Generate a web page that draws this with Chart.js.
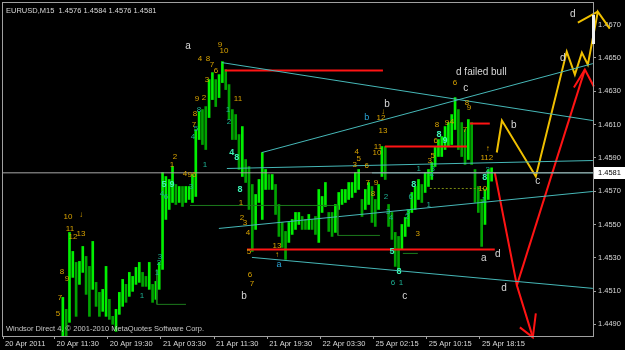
<!DOCTYPE html>
<html>
<head>
<meta charset="utf-8">
<script src="https://cdn.jsdelivr.net/npm/chart.js"></script>
<style>
html, body { margin: 0; padding: 0; background: #000; }
canvas { display: block; }
</style>
</head>
<body>
<canvas id="chart" width="625" height="350"></canvas>
<script>
// EURUSD M15, prices
var symbolName = 'EURUSD,M15';
var lastOHLC = [1.4576, 1.4584, 1.4576, 1.4581];
var copyrightText = 'Windsor Direct 4, \u00a9 2001-2010 MetaQuotes Software Corp.';

// x axis is bar number (15 min bars), 0 = left edge
var dateTickBars = [0, 31, 63, 95, 127, 159, 191, 223, 255, 287];
var dateTickLabels = ['20 Apr 2011', '20 Apr 11:30', '20 Apr 19:30', '21 Apr 03:30', '21 Apr 11:30',
    '21 Apr 19:30', '22 Apr 03:30', '25 Apr 02:15', '25 Apr 10:15', '25 Apr 18:15'];
var priceTicks = [1.4490, 1.4510, 1.4530, 1.4550, 1.4570, 1.4590, 1.4610, 1.4630, 1.4650, 1.4670];
var xMaxBar = 355;
var priceMin = 1.4483, priceMax = 1.4683;

// price bars, one entry every barStep bars starting at firstBar
var firstBar = 36, barStep = 2;
var barHigh = [1.45062, 1.4499, 1.45452, 1.45338, 1.45272, 1.45278, 1.45368, 1.45308, 1.45248, 1.45398,
    1.45152, 1.45092, 1.4511, 1.45248, 1.4505, 1.44948, 1.4499, 1.45092, 1.4517, 1.4514,
    1.45212, 1.45188, 1.45242, 1.45272, 1.45212, 1.45188, 1.45272, 1.4514, 1.45158, 1.45272,
    1.45812, 1.45788, 1.4577, 1.45848, 1.4574, 1.45728, 1.45728, 1.45728, 1.45728, 1.458,
    1.4607, 1.46178, 1.4619, 1.46208, 1.4637, 1.46412, 1.4637, 1.464, 1.46478, 1.4643,
    1.4634, 1.4619, 1.4616, 1.4604, 1.46088, 1.4589, 1.45848, 1.4574, 1.4568, 1.4577,
    1.45932, 1.4583, 1.458, 1.458, 1.4574, 1.4562, 1.45512, 1.45458, 1.45512, 1.4553,
    1.45572, 1.45572, 1.45548, 1.4553, 1.4556, 1.4553, 1.45548, 1.4571, 1.45668, 1.45752,
    1.45572, 1.45572, 1.4562, 1.45692, 1.4571, 1.4571, 1.45752, 1.45752, 1.45812, 1.4583,
    1.4565, 1.4571, 1.45752, 1.45728, 1.4565, 1.4574, 1.45968, 1.45968, 1.4562, 1.45572,
    1.45452, 1.45428, 1.455, 1.45542, 1.4559, 1.45692, 1.45728, 1.4577, 1.4574, 1.45812,
    1.4583, 1.45872, 1.45968, 1.4601, 1.46028, 1.46088, 1.46112, 1.4616, 1.46262, 1.4619,
    1.46112, 1.4607, 1.4613, 1.46112, 1.4583, 1.45728, 1.4565, 1.4571, 1.4583, 1.4584];
var barLow = [1.4481, 1.4481, 1.44912, 1.45182, 1.44948, 1.4514, 1.45212, 1.4508, 1.44948, 1.4511,
    1.45008, 1.44948, 1.44978, 1.44948, 1.4493, 1.449, 1.44858, 1.4496, 1.45008, 1.45032,
    1.45068, 1.45098, 1.4514, 1.45152, 1.45128, 1.45128, 1.4511, 1.45032, 1.4505, 1.4511,
    1.4523, 1.4553, 1.4559, 1.45632, 1.4562, 1.45632, 1.45608, 1.45632, 1.4565, 1.45632,
    1.45668, 1.4601, 1.4598, 1.4595, 1.46142, 1.4625, 1.46208, 1.46262, 1.46352, 1.4631,
    1.4613, 1.4601, 1.4601, 1.4583, 1.45788, 1.45752, 1.4559, 1.45338, 1.4547, 1.45632,
    1.4553, 1.4571, 1.4571, 1.4571, 1.4556, 1.45428, 1.45362, 1.4529, 1.45392, 1.4544,
    1.4547, 1.455, 1.4547, 1.4547, 1.4547, 1.4547, 1.4544, 1.45392, 1.45572, 1.45608,
    1.45458, 1.45428, 1.45452, 1.4559, 1.4562, 1.45632, 1.4565, 1.45662, 1.45692, 1.4571,
    1.45548, 1.4559, 1.4562, 1.45512, 1.45488, 1.4559, 1.45788, 1.4577, 1.45488, 1.4541,
    1.45248, 1.4523, 1.4535, 1.45428, 1.45488, 1.45572, 1.4559, 1.4565, 1.45632, 1.45692,
    1.45728, 1.4577, 1.45848, 1.45908, 1.45908, 1.4595, 1.45968, 1.4598, 1.4607, 1.4595,
    1.45908, 1.4586, 1.4589, 1.4586, 1.45632, 1.45572, 1.45368, 1.455, 1.4565, 1.4576];

// drawn objects: [bar, price] points
var cyanLines = [
    [[131.7, 1.46472], [354.9, 1.46124]],
    [[155.8, 1.45932], [354.9, 1.46466]],
    [[134.7, 1.45836], [354.9, 1.45884]],
    [[129.9, 1.45476], [354.9, 1.45698]],
    [[149.8, 1.45302], [354.9, 1.45116]],
    [[222, 1.4581], [355, 1.4581]]
];
var bidLine = [[0, 1.4581], [355, 1.4581]];
var redLevels = [
    [[133.5, 1.46424], [228.6, 1.46424]],
    [[229.8, 1.45968], [279.1, 1.45968]],
    [[280.9, 1.46106], [292.9, 1.46106]],
    [[146.8, 1.4535], [295.9, 1.4535]]
];
var redPath = [
    [[295.9, 1.45812], [309.2, 1.45134], [318.8, 1.44822]],
    [[309.2, 1.45134], [350.1, 1.4643]],
    [[311.0, 1.44882], [318.8, 1.44822], [320.6, 1.44966]],
    [[343.5, 1.46322], [350.1, 1.4643], [355.5, 1.46328]]
];
var yellowPath = [
    [[297.1, 1.45932], [300.2, 1.46124], [320.6, 1.45788], [339.2, 1.46538], [344.1, 1.464],
     [348.3, 1.46532], [351.9, 1.4646], [357.9, 1.46778], [365.1, 1.46676]],
    [[345.9, 1.46712], [357.9, 1.46778]]
];
var greenSteps = [
    [[92.6, 1.4523], [92.6, 1.4502], [110.1, 1.4502]],
    [[112.5, 1.45614], [201.5, 1.45614], [201.5, 1.45434], [226.8, 1.45434]],
    [[240.6, 1.45326], [249.6, 1.45326]]
];
var oliveDots = [[256.8, 1.45716], [292.9, 1.45716]];

// text marks: [text, bar, price]
var waveLetters = [['a', 111.3, 1.46568], ['b', 145.0, 1.45068], ['b', 231.0, 1.4622], ['c', 278.5, 1.46316],
    ['d failed bull', 287.8, 1.46412], ['c', 241.8, 1.45068], ['a', 289.3, 1.45296], ['d', 297.7, 1.4532],
    ['b', 307.4, 1.46094], ['c', 321.8, 1.45758], ['d', 301.4, 1.45116], ['d', 336.8, 1.46496], ['d', 342.8, 1.4676]];
var blueLetters = [['b', 218.9, 1.46142], ['a', 166.0, 1.4526]];
var yellowCounts = [['10', 39.1, 1.45548], ['\u2193', 46.9, 1.4556], ['11', 40.3, 1.45476], ['12', 42.1, 1.45428],
    ['13', 46.9, 1.45446], ['8', 35.5, 1.45218], ['9', 38.5, 1.45176], ['7', 34.3, 1.45062], ['5', 33.1, 1.44966],
    ['9', 130.5, 1.4658], ['10', 132.9, 1.46544], ['4', 118.5, 1.46496], ['8', 123.3, 1.46496], ['7', 125.7, 1.4646],
    ['6', 128.1, 1.46424], ['3', 122.7, 1.4637], ['9', 116.7, 1.46256], ['2', 120.9, 1.46262], ['11', 141.4, 1.46256],
    ['8', 115.5, 1.46166], ['7', 114.9, 1.461], ['2', 103.5, 1.45908], ['1', 101.7, 1.4586], ['4', 109.5, 1.45806],
    ['96', 113.7, 1.458], ['1', 143.2, 1.45632], ['2', 143.8, 1.45542], ['3', 145.6, 1.45512], ['4', 147.4, 1.45452],
    ['5', 148.0, 1.45338], ['6', 148.6, 1.452], ['7', 149.8, 1.45146], ['13', 164.8, 1.45374], ['\u2191', 164.8, 1.4532],
    ['4', 212.9, 1.45938], ['5', 214.1, 1.45896], ['3', 211.7, 1.4586], ['6', 218.9, 1.45854], ['\u2193', 228.6, 1.46178],
    ['12', 227.4, 1.46142], ['13', 228.6, 1.46064], ['11', 225.6, 1.45968], ['10', 225.0, 1.4593], ['7', 219.5, 1.45752],
    ['9', 224.4, 1.45752], ['8', 222.6, 1.45686], ['3', 249.6, 1.45446], ['3', 256.8, 1.45884], ['5', 258.6, 1.45914],
    ['6', 260.4, 1.46], ['8', 261.1, 1.461], ['9', 267.1, 1.46112], ['4', 270.1, 1.46118], ['7', 277.9, 1.4607],
    ['6', 271.9, 1.46352], ['8', 279.1, 1.46232], ['9', 280.3, 1.46202], ['112', 291.1, 1.45902], ['\u2191', 291.7, 1.45956],
    ['10', 288.7, 1.45716]];
var tealCounts = [['1', 83.6, 1.45074], ['1', 92.6, 1.45212], ['2', 93.8, 1.45272], ['3', 94.4, 1.45308],
    ['4', 95.6, 1.45686], ['6', 98.0, 1.45668], ['3', 113.1, 1.45728], ['4', 114.3, 1.46028], ['5', 116.1, 1.46076],
    ['8', 117.9, 1.4619], ['1', 121.5, 1.4586], ['1', 135.3, 1.4619], ['2', 135.9, 1.46118], ['2', 230.4, 1.45668],
    ['3', 231.6, 1.45578], ['4', 233.4, 1.45542], ['2', 243.0, 1.45548], ['3', 243.6, 1.45578], ['6', 234.6, 1.45152],
    ['1', 239.4, 1.45152], ['6', 245.4, 1.45668], ['1', 256.2, 1.4562], ['1', 250.2, 1.45836], ['3', 258.6, 1.45836],
    ['4', 258.0, 1.458], ['1', 289.3, 1.4565], ['2', 291.7, 1.4583]];
var brightCounts = [['5', 96.8, 1.4574], ['9', 101.7, 1.4574], ['4', 137.7, 1.45932], ['8', 140.7, 1.45902],
    ['8', 142.6, 1.4571], ['5', 234.0, 1.45338], ['8', 238.2, 1.45218], ['8', 247.2, 1.4574], ['8', 262.3, 1.4604],
    ['9', 265.9, 1.46004], ['8', 289.9, 1.45782]];

var FONT = "'Liberation Sans', Arial, sans-serif";

var barPoints = [];
var barColors = [];
for (var i = 0; i < barHigh.length; i++) {
    barPoints.push({x: firstBar + i * barStep, y: [barLow[i], barHigh[i]]});
    var mid = (barHigh[i] + barLow[i]) / 2;
    var prevMid = i > 0 ? (barHigh[i - 1] + barLow[i - 1]) / 2 : mid;
    barColors.push(mid >= prevMid ? '#00f000' : '#00a400');
}

function toXY(points) {
    return points.map(function(p) { return {x: p[0], y: p[1]}; });
}

function lineSet(points, color, width, dash, noClip) {
    var ds = {
        type: 'line',
        data: toXY(points),
        borderColor: color,
        borderWidth: width,
        borderDash: dash || [],
        pointRadius: 0,
        fill: false,
        tension: 0,
        order: 1
    };
    if (noClip) ds.clip = false;
    return ds;
}

var datasets = [];
datasets.push({
    type: 'bar',
    data: barPoints,
    backgroundColor: barColors,
    barThickness: 2,
    grouped: false,
    order: 10
});
datasets.push(lineSet(bidLine, '#a8a8a8', 1));
greenSteps.forEach(function(s) { datasets.push(lineSet(s, '#1c7a1c', 1)); });
datasets.push(lineSet(oliveDots, '#7a8a10', 1, [2, 2]));
cyanLines.forEach(function(s) { datasets.push(lineSet(s, '#46b8b8', 1)); });
redLevels.forEach(function(s) { datasets.push(lineSet(s, '#ff1414', 2)); });
redPath.forEach(function(s) { datasets.push(lineSet(s, '#ff1414', 2, null, true)); });
yellowPath.forEach(function(s) { datasets.push(lineSet(s, '#f0c000', 2, null, true)); });

var labelGroups = [
    {items: yellowCounts, color: '#d8a200', font: '8px ' + FONT},
    {items: tealCounts, color: '#1db094', font: '8px ' + FONT},
    {items: brightCounts, color: '#3cf5b4', font: 'bold 9px ' + FONT},
    {items: blueLetters, color: '#2aa6d8', font: '9px ' + FONT},
    {items: waveLetters, color: '#d8d8d8', font: '10px ' + FONT}
];

var mt4Plugin = {
    id: 'mt4',
    beforeDraw: function(chart) {
        var ctx = chart.ctx;
        ctx.save();
        ctx.fillStyle = '#000';
        ctx.fillRect(0, 0, chart.width, chart.height);
        ctx.restore();
    },
    afterDatasetsDraw: function(chart) {
        var ctx = chart.ctx, x = chart.scales.x, y = chart.scales.y;
        ctx.save();
        ctx.textAlign = 'center';
        ctx.textBaseline = 'middle';
        labelGroups.forEach(function(g) {
            ctx.font = g.font;
            ctx.fillStyle = g.color;
            g.items.forEach(function(it) {
                ctx.fillText(it[0], x.getPixelForValue(it[1]), y.getPixelForValue(it[2]));
            });
        });
        ctx.restore();
    },
    afterDraw: function(chart) {
        var ctx = chart.ctx, a = chart.chartArea, y = chart.scales.y;
        ctx.save();
        ctx.strokeStyle = '#a0a0a0';
        ctx.lineWidth = 1;
        ctx.strokeRect(a.left - 0.5, a.top - 0.5, a.right - a.left + 1, a.bottom - a.top + 1);
        // shift marker
        ctx.fillStyle = '#f0f0f0';
        ctx.fillRect(a.right - 1, a.top + 12, 3, 29);

        ctx.font = '7.5px ' + FONT;
        ctx.fillStyle = '#d8d8d8';
        ctx.textAlign = 'left';
        ctx.textBaseline = 'middle';
        ctx.fillText(symbolName + '  ' + lastOHLC.map(function(v) { return v.toFixed(4); }).join(' '), a.left + 3, a.top + 8);
        ctx.fillStyle = '#c8c8c8';
        ctx.fillText(copyrightText, a.left + 3, a.bottom - 7);

        var py = Math.round(y.getPixelForValue(lastOHLC[3]));
        ctx.fillStyle = '#ffffff';
        ctx.fillRect(a.right + 1, py - 6, 31, 12);
        ctx.fillStyle = '#000000';
        ctx.fillText(lastOHLC[3].toFixed(4), a.right + 5, py);
        ctx.restore();
    }
};

function zeroPad(s) {
    s.paddingLeft = 0; s.paddingRight = 0; s.paddingTop = 0; s.paddingBottom = 0;
}

new Chart(document.getElementById('chart').getContext('2d'), {
    type: 'bar',
    data: {datasets: datasets},
    options: {
        responsive: false,
        animation: false,
        devicePixelRatio: 1,
        layout: {padding: {left: 3, top: 3, right: 0, bottom: 0}},
        plugins: {legend: {display: false}, tooltip: {enabled: false}},
        scales: {
            x: {
                type: 'linear',
                bounds: 'data',
                offset: false,
                afterDataLimits: function(s) { s.min = 0; s.max = xMaxBar; },
                afterBuildTicks: function(s) { s.ticks = dateTickBars.map(function(v) { return {value: v}; }); },
                afterFit: function(s) { s.height = 14; zeroPad(s); },
                grid: {display: true, offset: false, drawOnChartArea: false, drawTicks: true, tickLength: 3, color: '#a0a0a0'},
                border: {display: false},
                ticks: {
                    autoSkip: false,
                    maxRotation: 0,
                    align: 'start',
                    labelOffset: 2,
                    padding: 0,
                    color: '#d8d8d8',
                    font: {family: FONT, size: 7.5},
                    callback: function(v, idx) { return dateTickLabels[idx]; }
                }
            },
            y: {
                type: 'linear',
                position: 'right',
                bounds: 'data',
                beginAtZero: false,
                min: priceMin,
                max: priceMax,
                afterBuildTicks: function(s) { s.ticks = priceTicks.map(function(v) { return {value: v}; }); },
                afterFit: function(s) { s.width = 32; zeroPad(s); },
                grid: {display: true, drawOnChartArea: false, drawTicks: true, tickLength: 3, color: '#a0a0a0'},
                border: {display: false},
                ticks: {
                    padding: 2,
                    color: '#d8d8d8',
                    font: {family: FONT, size: 7.5},
                    callback: function(v) { return v.toFixed(4); }
                }
            }
        }
    },
    plugins: [mt4Plugin]
});
</script>
</body>
</html>
